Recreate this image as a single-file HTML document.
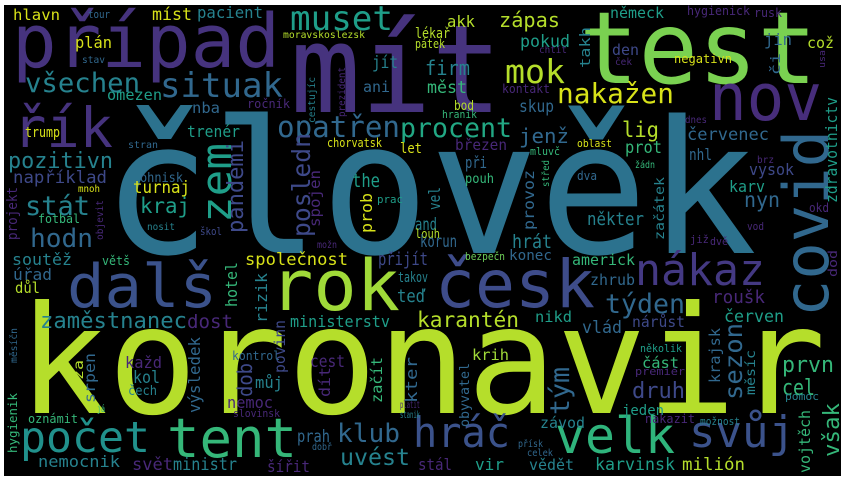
<!DOCTYPE html>
<html><head><meta charset="utf-8"><style>
html,body{margin:0;padding:0;background:#fff}
svg{display:block}
text{font-family:"DejaVu Sans Mono","Liberation Mono",monospace}
</style></head><body>
<svg id="cloud" width="845" height="480" viewBox="0 0 845 480" xmlns="http://www.w3.org/2000/svg">
<rect x="0" y="0" width="845" height="480" fill="#ffffff"/>
<rect x="4" y="5" width="837" height="471" fill="#000000"/>
<g id="words"></g>
</svg>
<script>
const P1="#440154",P2="#482878",PP="#46337e",P3="#3e4989",B="#31688e",T="#26828e",TG="#1f9e89",G="#35b779",LG="#6ece58",YG="#b5de2b",Y="#d8e219";
// [text, x, baseline, size, color, visibleLength, rotated]
const words=[
["koronavir",18,413,150,YG,808,0],
["člověk",102,253,185,"#2c728e",655,0],
["mít",290,112,122,PP,212,0],
["test",579,83,100,"#7ad151",238,0],
["případ",12,67,74,PP,268,0],
["nov",709,120,65,"#472d7b",113,0],
["covid",828,317,62,B,187,1],
["dalš",67,307,60,"#3b528b",150,0],
["rok",270,310,70,"#a0da39",130,0],
["česk",435,307,66,"#3e4c8a",160,0],
["nákaz",635,285,44,"#443983",130,0],
["tent",167,457,54,G,130,0],
["počet",20,452,43,"#21918c",130,0],
["hráč",413,447,42,"#3b528b",97,0],
["velk",555,453,50,"#2fb47c",120,0],
["svůj",689,447,44,"#3b528b",106,0],
["řík",13,147,55,PP,100,0],
["muset",290,30,34,TG,103,0],
["situak",160,97,34,B,123,0],
["všechen",25,92,27,T,115,0],
["opatřen",277,137,29,B,123,0],
["procent",400,137,27,"#22a884",112,0],
["zem",231,223,42,TG,80,1],
["pandemi",243,233,22,P3,93,1],
["posledn",310,237,25,P3,104,1],
["pozitivn",8,168,22,T,105,0],
["například",13,183,17,P3,94,0],
["stát",25,215,27,T,65,0],
["kraj",140,213,21,TG,50,0],
["hodn",30,247,26,B,63,0],
["mok",505,83,33,YG,60,0],
["nakažen",557,103,28,Y,117,0],
["zápas",499,27,20,YG,61,0],
["firm",425,75,20,T,45,0],
["lig",622,137,21,YG,37,0],
["jenž",519,143,20,B,50,0],
["týden",605,313,27,B,80,0],
["karantén",417,327,21,YG,102,0],
["klub",337,442,26,B,63,0],
["uvést",340,465,23,T,70,0],
["zaměstnanec",40,328,22,T,147,0],
["dost",187,328,19,P2,46,0],
["společnost",245,265,17,Y,103,0],
["druh",632,398,22,P3,53,0],
["tým",569,415,27,B,48,1],
["sezon",742,400,25,B,77,1],
["prvn",782,372,22,G,52,0],
["cel",782,395,22,G,33,0],
["však",839,457,22,G,54,1],
["roušk",712,303,18,P2,53,0],
["nárůst",632,327,15,P3,53,0],
["vlád",582,333,17,B,40,0],
["červen",724,322,17,TG,60,0],
["nikd",535,322,15,TG,37,0],
["americk",572,265,15,G,63,0],
["zhrub",590,285,15,B,45,0],
["konec",509,260,14,B,43,0],
["krih",472,360,15,"#a0da39",37,0],
["část",642,368,15,G,37,0],
["jeden",622,415,14,TG,42,0],
["závod",540,428,15,T,45,0],
["vir",475,470,16,TG,29,0],
["vědět",529,470,15,T,45,0],
["karvinsk",595,470,17,TG,80,0],
["milión",682,470,17,YG,63,0],
["vojtěch",810,473,15,G,63,1],
["obyvatel",469,427,13,B,64,1],
["krajsk",720,383,15,B,55,1],
["měsíc",755,395,13,T,45,1],
["pomoc",785,400,11,T,34,0],
["několik",640,352,11,TG,42,0],
["premiér",635,375,11,P2,50,0],
["nakazit",645,423,12,P2,50,0],
["možnost",700,425,11,T,40,0],
["přísk",518,447,10,B,25,0],
["celek",527,456,10,B,26,0],
["stál",418,470,16,P2,34,0],
["dod",837,277,12,P2,27,1],
["bezpečn",465,260,11,LG,40,0],
["dvě",710,245,11,P2,18,0],
["akk",447,27,16,YG,28,0],
["lékař",415,38,14,YG,35,0],
["pátek",415,48,12,YG,30,0],
["měst",427,93,17,G,40,0],
["bod",454,110,13,YG,20,0],
["hranik",442,118,11,G,35,0],
["pokud",520,47,17,TG,50,0],
["takh",590,68,14,T,41,1],
["den",612,55,15,P3,27,0],
["německ",610,18,15,TG,54,0],
["hygienick",687,15,12,P2,63,0],
["rusk",754,17,12,P2,28,0],
["jin",764,45,16,B,28,0],
["což",807,48,15,YG,27,0],
["či",780,75,13,B,22,1],
["usa",825,68,9,P2,18,1],
["negativn",674,63,12,Y,58,0],
["chtít",539,53,10,P2,28,0],
["ček",615,65,10,P2,17,0],
["kontakt",502,93,12,P2,48,0],
["skup",519,112,17,B,35,0],
["březen",455,150,15,P2,52,0],
["při",465,168,16,B,22,0],
["pouh",465,183,13,G,29,0],
["vel",440,210,16,T,23,1],
["and",415,230,17,T,22,0],
["louh",415,238,12,YG,25,0],
["provoz",534,230,15,B,60,1],
["prot",625,153,17,G,37,0],
["nhl",689,160,16,B,23,0],
["červenec",687,140,17,B,82,0],
["vysok",749,175,16,P3,45,0],
["karv",729,192,16,TG,36,0],
["nyn",744,207,21,B,36,0],
["zdravotnictv",837,203,16,TG,106,1],
["brz",757,163,10,P2,17,0],
["dnes",685,123,10,P2,22,0],
["okd",809,212,12,P2,20,0],
["vod",747,230,11,P2,17,0],
["někter",587,225,18,T,57,0],
["začátek",664,240,13,T,63,1],
["dva",577,180,12,B,20,0],
["žádn",635,168,10,G,20,0],
["oblast",577,147,11,Y,35,0],
["mluvč",530,155,11,G,30,0],
["střed",549,187,10,G,27,1],
["již",690,243,11,P2,19,0],
["hrát",512,248,19,T,40,0],
["korun",420,247,17,B,37,0],
["hlavn",13,20,15,Y,47,0],
["tour",88,18,11,B,22,0],
["míst",152,20,17,Y,40,0],
["pacient",197,18,16,T,66,0],
["plán",75,48,16,Y,37,0],
["stav",82,63,10,B,23,0],
["moravskoslezsk",283,38,10,YG,82,0],
["jít",372,68,17,T,26,0],
["ani",363,92,15,B,27,0],
["omezen",107,100,15,TG,55,0],
["nba",192,113,15,B,28,0],
["ročník",247,108,12,P2,43,0],
["cestujíc",315,123,10,T,46,1],
["prezident",345,117,10,P2,50,1],
["trump",25,137,14,Y,35,0],
["trenér",187,137,16,TG,53,0],
["stran",128,148,10,B,30,0],
["chorvatsk",327,147,12,Y,55,0],
["let",400,153,14,Y,22,0],
["ohnisk",140,182,13,B,43,0],
["turnaj",133,193,17,Y,57,0],
["the",352,187,19,TG,28,0],
["prob",372,233,16,Y,40,1],
["spojen",320,227,15,P2,57,1],
["mnoh",78,192,10,Y,22,0],
["projekt",17,240,14,P2,53,1],
["fotbal",38,223,12,G,42,0],
["objevit",103,240,10,P2,40,1],
["nosit",147,230,10,T,28,0],
["škol",200,235,11,P3,22,0],
["prac",377,203,11,TG,26,0],
["soutěž",12,265,16,T,60,0],
["úřad",13,280,16,B,39,0],
["důl",15,293,15,YG,25,0],
["větš",102,265,12,G,28,0],
["možn",317,248,10,P2,20,0],
["přijít",378,265,18,P3,50,0],
["takov",398,282,14,T,30,0],
["teď",397,302,18,T,28,0],
["hotel",237,307,16,G,45,1],
["rizik",267,323,16,T,50,1],
["ministerstv",290,327,16,TG,100,0],
["výsledek",200,413,16,B,76,1],
["dob",252,397,20,P3,34,1],
["povinn",285,373,15,P3,53,1],
["každ",125,368,16,P2,37,0],
["kol",133,383,17,T,27,0],
["čech",128,395,13,T,29,0],
["srpen",95,403,15,B,50,1],
["za",83,380,13,YG,20,1],
["kontrol",232,360,12,B,48,0],
["můj",255,388,16,T,28,0],
["nemoc",227,408,16,P2,46,0],
["cest",310,367,17,P2,35,0],
["dít",330,397,15,P2,30,1],
["začít",382,403,15,G,46,1],
["kter",417,403,16,B,46,1],
["oznámit",28,423,12,G,50,0],
["hygienik",17,453,12,G,60,1],
["měsíčn",17,363,10,B,35,1],
["já",97,412,10,G,8,0],
["slovinsk",233,417,11,P2,47,0],
["prah",297,442,17,B,33,0],
["dobř",312,450,10,B,20,0],
["nemocnik",38,467,16,T,82,0],
["svět",132,470,17,P2,41,0],
["ministr",173,470,17,T,64,0],
["šířit",267,472,16,P2,43,0],
["platit",400,408,10,P2,20,0],
["stanik",400,418,10,T,20,0]
];
const g=document.getElementById('words');
const NS="http://www.w3.org/2000/svg";
words.forEach(function(w){
  const t=document.createElementNS(NS,'text');
  t.textContent=w[0];
  t.setAttribute('font-size',w[3]);
  t.setAttribute('fill',w[4]);
  t.setAttribute('textLength',w[5]);
  t.setAttribute('lengthAdjust','spacingAndGlyphs');
  if(w[6]){
    t.setAttribute('x',0);t.setAttribute('y',0);
    t.setAttribute('transform','translate('+w[1]+','+w[2]+') rotate(-90)');
  }else{
    t.setAttribute('x',w[1]);t.setAttribute('y',w[2]);
  }
  
  
  g.appendChild(t);
});
</script>
</body></html>
